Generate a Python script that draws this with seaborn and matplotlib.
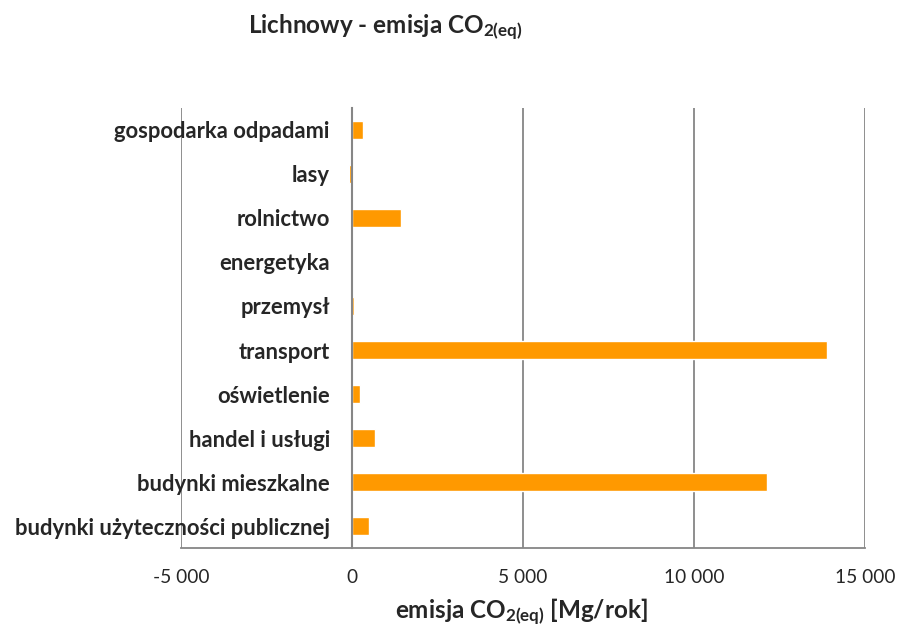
import numpy as np
import pandas as pd
import matplotlib
matplotlib.use('Agg')
import matplotlib.pyplot as plt
import seaborn as sns
from matplotlib.ticker import FuncFormatter

# %% Data

categories = ['gospodarka odpadami', 'lasy', 'rolnictwo', 'energetyka',
              'przemysł', 'transport', 'oświetlenie', 'handel i usługi',
              'budynki mieszkalne', 'budynki użyteczności publicznej']
emisja = [330, -90, 1430, 0, 50, 13880, 225, 660, 12125, 505]
xticks = [-5000, 0, 5000, 10000, 15000]

df = pd.DataFrame({'kategoria': categories, 'emisja': emisja})

# %% Style

sns.set_style('white')
plt.rcParams['font.family'] = ['Lato', 'DejaVu Sans']
plt.rcParams['mathtext.fontset'] = 'custom'
plt.rcParams['mathtext.rm'] = 'Lato'
plt.rcParams['mathtext.bf'] = 'Lato:bold'
plt.rcParams['mathtext.it'] = 'Lato:italic'

grey = '#868686'

# %% Plot

fig = plt.figure(figsize=(9.01, 6.34), dpi=100)
ax = fig.add_axes([0.2009, 0.1356, 0.7592, 0.6941])

sns.barplot(data=df, x='emisja', y='kategoria', orient='h',
            color='#FF9900', saturation=1, width=0.39, ax=ax, zorder=3)

ax.set_xlim(-5000, 15000)
ax.set_ylim(9.5, -0.5)
ax.set_xticks(xticks)
ax.xaxis.set_major_formatter(FuncFormatter(lambda v, p: f'{v:,.0f}'.replace(',', ' ')))

#Gridlines
ax.grid(axis='x', color=grey, lw=1.3, zorder=0)
ax.grid(axis='y', visible=False)

#Spines
ax.spines['top'].set_visible(False)
ax.spines['right'].set_visible(False)
ax.spines['left'].set_position(('data', 0))
ax.spines['left'].set_color(grey)
ax.spines['left'].set_linewidth(1.5)
ax.spines['left'].set_zorder(4)
ax.spines['bottom'].set_color(grey)
ax.spines['bottom'].set_linewidth(1.3)

#Ticks
ax.set_yticks(np.arange(-0.5, 10, 1), minor=True)
ax.tick_params(axis='y', which='major', length=0, pad=16, labelsize=15.8)
ax.tick_params(axis='y', which='minor', length=6, width=1.5, color=grey, direction='out')
ax.tick_params(axis='x', which='major', length=5, width=1.3, color=grey,
               direction='out', labelsize=13.8, pad=10)
for lab in ax.get_yticklabels():
    lab.set_fontweight('bold')

ax.set_xlabel('')
ax.set_ylabel('')

#Title and x label as figure text
fig.text(0.427, 0.958, r'Lichnowy - emisja CO$_{\mathbf{2(eq)}}$',
         ha='center', va='center', fontsize=17.5, fontweight='bold')
fig.text(0.579, 0.036, r'emisja CO$_{\mathbf{2(eq)}}$ [Mg/rok]',
         ha='center', va='center', fontsize=17.5, fontweight='bold')

fig.savefig('out.png', dpi=100)
